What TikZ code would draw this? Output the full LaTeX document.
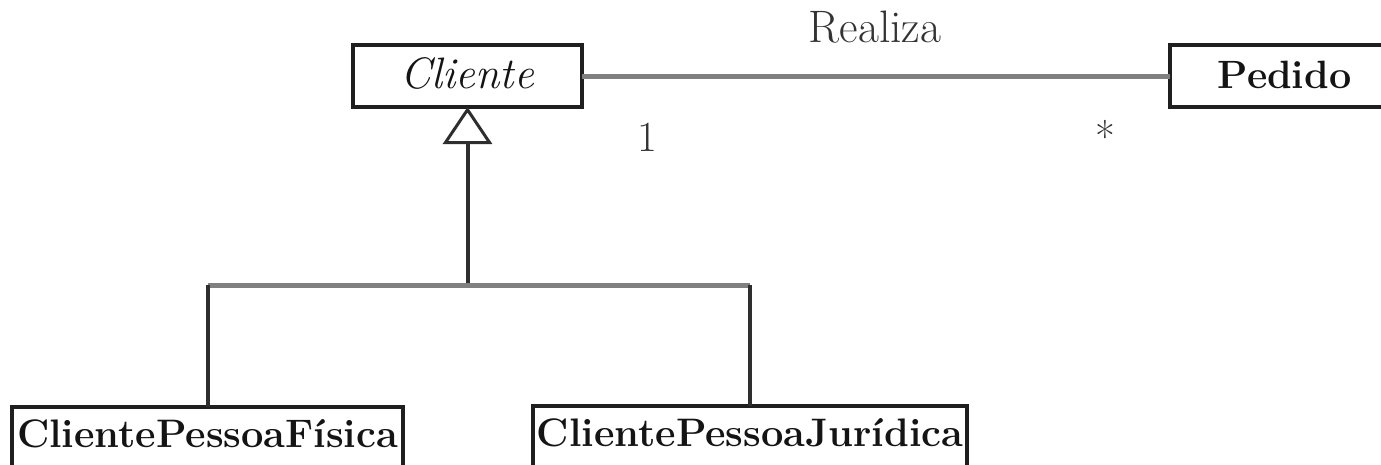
\documentclass[tikz,border=0pt]{standalone}
\usepackage{fontspec}
\usetikzlibrary{arrows.meta}
\begin{document}
\begin{tikzpicture}[x=1pt,y=-1pt,
 classbox/.style={draw=black!88, line width=4pt, inner xsep=0pt, inner ysep=0pt, outer sep=0pt, text=black!92},
 topbox/.style={classbox, minimum width=229pt, text height=43pt, text depth=19pt, anchor=north},
 subbox/.style={classbox, text height=40pt, text depth=40pt, anchor=north, font=\bfseries\fontsize{39.8}{44}\selectfont},
 assoc/.style={draw=black!50, line width=5pt},
 treeh/.style={draw=black!50, line width=5pt},
 treev/.style={draw=black!82, line width=4pt},
 lbl/.style={text=black!80, font=\fontsize{45.5}{50}\selectfont, inner sep=0pt}]
\useasboundingbox (0,0) rectangle (1381,464);
\clip (0,0) rectangle (1381,464);
\node[topbox, font=\itshape\fontsize{44}{48}\selectfont] (cliente) at (467.5,45) {Cliente};
\node[topbox, font=\bfseries\fontsize{39.5}{44}\selectfont] (pedido) at (1284.5,45) {Pedido};
\node[subbox, minimum width=391pt] (fisica) at (207.5,407) {ClientePessoaFísica};
\node[subbox, minimum width=434pt] (juridica) at (750,406) {ClientePessoaJurídica};
\coordinate (hub) at (467.5,285);
\draw[assoc] (cliente.east) -- (pedido.west);
\node[lbl] (realiza) at (875,27.5) {Realiza};
\node[lbl, font=\fontsize{43}{48}\selectfont] (mult1) at (647,137) {1};
\node[lbl, font=\fontsize{43}{48}\selectfont] (multstar) at (1105,136) {*};
\draw[treev, -{Triangle[open, length=37pt, width=49pt, line width=3pt]}] (hub) -- (cliente.south);
\draw[treeh] (fisica.north |- hub) -- (juridica.north |- hub);
\draw[treev] (fisica.north |- hub) -- (fisica.north);
\draw[treev] (juridica.north |- hub) -- (juridica.north);
\end{tikzpicture}
\end{document}
